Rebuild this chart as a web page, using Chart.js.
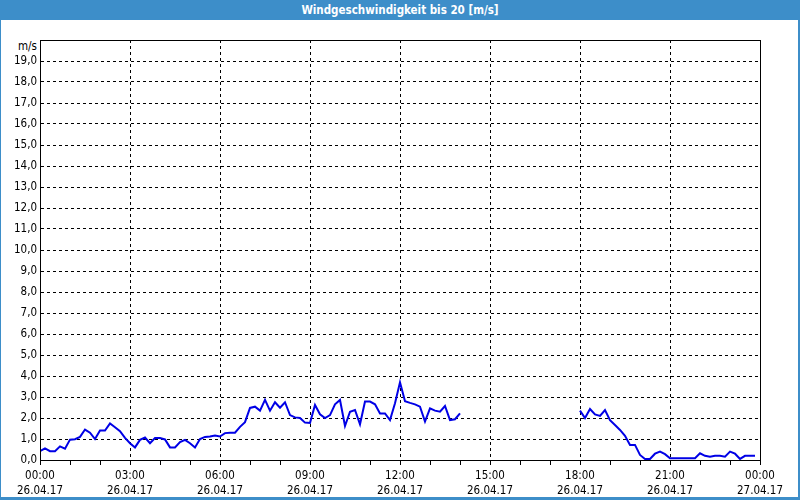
<!DOCTYPE html>
<html lang="de">
<head>
<meta charset="UTF-8" />
<title>Windgeschwindigkeit bis 20 [m/s]</title>
<style>
  html,body{margin:0;padding:0;background:#fff}
  #frame{position:absolute;left:0;top:0;width:800px;height:500px;box-sizing:border-box;
    border-left:1px solid #3d8ec9;border-right:2px solid #3d8ec9;border-bottom:3px solid #3d8ec9;overflow:hidden}
  #title{position:absolute;left:0;top:0;width:800px;height:20px;background:#3d8ec9;color:#fff;
    font:bold 11.5px "DejaVu Sans Condensed","DejaVu Sans",sans-serif;line-height:20px;text-align:center}
  #unit{position:absolute;left:0;width:37px;top:39px;text-align:right;
    font:11.5px "DejaVu Sans Condensed","DejaVu Sans",sans-serif;color:#000}
  #chart{position:absolute;left:0;top:20px}
</style>
<script src="https://cdn.jsdelivr.net/npm/chart.js"></script>
</head>
<body>
<div id="frame"></div>
<div id="title">Windgeschwindigkeit bis 20 [m/s]</div>
<div id="unit">m/s</div>
<canvas id="chart" width="800" height="478"></canvas>
<script>
// wind speed in m/s, one value every 10 minutes from 00:00 (null = no data)
const windSpeed=[
  0.42,0.55,0.42,0.42,0.65,0.54,0.97,0.99,1.10,1.45,1.30,1.00,
  1.40,1.40,1.74,1.56,1.37,1.05,0.80,0.60,0.96,1.07,0.80,1.05,
  1.05,0.98,0.60,0.60,0.85,0.96,0.80,0.60,1.00,1.10,1.12,1.17,
  1.12,1.28,1.30,1.30,1.58,1.80,2.48,2.54,2.35,2.86,2.35,2.75,
  2.49,2.75,2.14,2.03,2.00,1.78,1.76,2.62,2.18,2.00,2.14,2.65,
  2.86,1.62,2.30,2.38,1.70,2.78,2.78,2.65,2.22,2.22,1.90,2.70,
  3.70,2.80,2.72,2.65,2.54,1.83,2.46,2.35,2.30,2.57,1.90,1.94,
  2.22,null,null,null,null,null,null,null,null,null,null,null,
  null,null,null,null,null,null,null,null,null,null,null,null,
  2.35,2.00,2.43,2.17,2.10,2.38,1.90,1.67,1.43,1.15,0.72,0.72,
  0.24,0.05,0.05,0.30,0.40,0.28,0.08,0.08,0.08,0.08,0.08,0.08,
  0.32,0.20,0.16,0.20,0.20,0.16,0.40,0.30,0.05,0.20,0.20,0.20
];
const stepMinutes=10;
const tickTimes=['00:00','03:00','06:00','09:00','12:00','15:00','18:00','21:00','00:00'];
const tickDates=['26.04.17','26.04.17','26.04.17','26.04.17','26.04.17','26.04.17','26.04.17','26.04.17','27.04.17'];

const points=windSpeed.map((v,i)=>({x:i*stepMinutes/60,y:v}));
const font={family:'"DejaVu Sans Condensed","DejaVu Sans",sans-serif',size:11.5};

const frameBox={
  id:'frameBox',
  afterDraw(c){
    const a=c.chartArea,ctx=c.ctx;
    ctx.save();
    ctx.strokeStyle='#000';ctx.lineWidth=1;
    ctx.strokeRect(Math.round(a.left)+0.5,Math.round(a.top)+0.5,Math.round(a.right-a.left),Math.round(a.bottom-a.top));
    ctx.restore();
  }
};

new Chart(document.getElementById('chart'),{
  type:'line',
  data:{datasets:[{data:points,borderColor:'#0000e6',borderWidth:2,pointRadius:0,tension:0,spanGaps:false,fill:false}]},
  options:{
    responsive:false,animation:false,
    layout:{padding:{top:20,right:40,left:0,bottom:0}},
    plugins:{legend:{display:false},tooltip:{enabled:false},title:{display:false}},
    scales:{
      x:{
        type:'linear',min:0,max:24,
        afterFit(s){s.height=38;},
        ticks:{stepSize:1,autoSkip:false,maxRotation:0,padding:4,color:'#000',
          font:{...font,lineHeight:1.3},
          callback:v=>v%3===0?[tickTimes[v/3],tickDates[v/3]]:''},
        grid:{color:c=>(c.tick&&c.tick.value%3===0&&c.tick.value>0&&c.tick.value<24)?'#000':'rgba(0,0,0,0)',
          tickColor:'#000',tickLength:5,lineWidth:1},
        border:{display:true,color:'#000',dash:[3,3]}
      },
      y:{
        min:0,max:20,
        afterFit(s){s.width=40;},
        ticks:{stepSize:1,padding:3,color:'#000',font,
          callback:v=>v===20?'':v.toFixed(1).replace('.',',')},
        grid:{color:c=>(c.tick&&c.tick.value>0&&c.tick.value<20)?'#000':'rgba(0,0,0,0)',drawTicks:false,lineWidth:1},
        border:{display:true,color:'#000',dash:[3,3]}
      }
    }
  },
  plugins:[frameBox]
});
</script>
</body>
</html>
